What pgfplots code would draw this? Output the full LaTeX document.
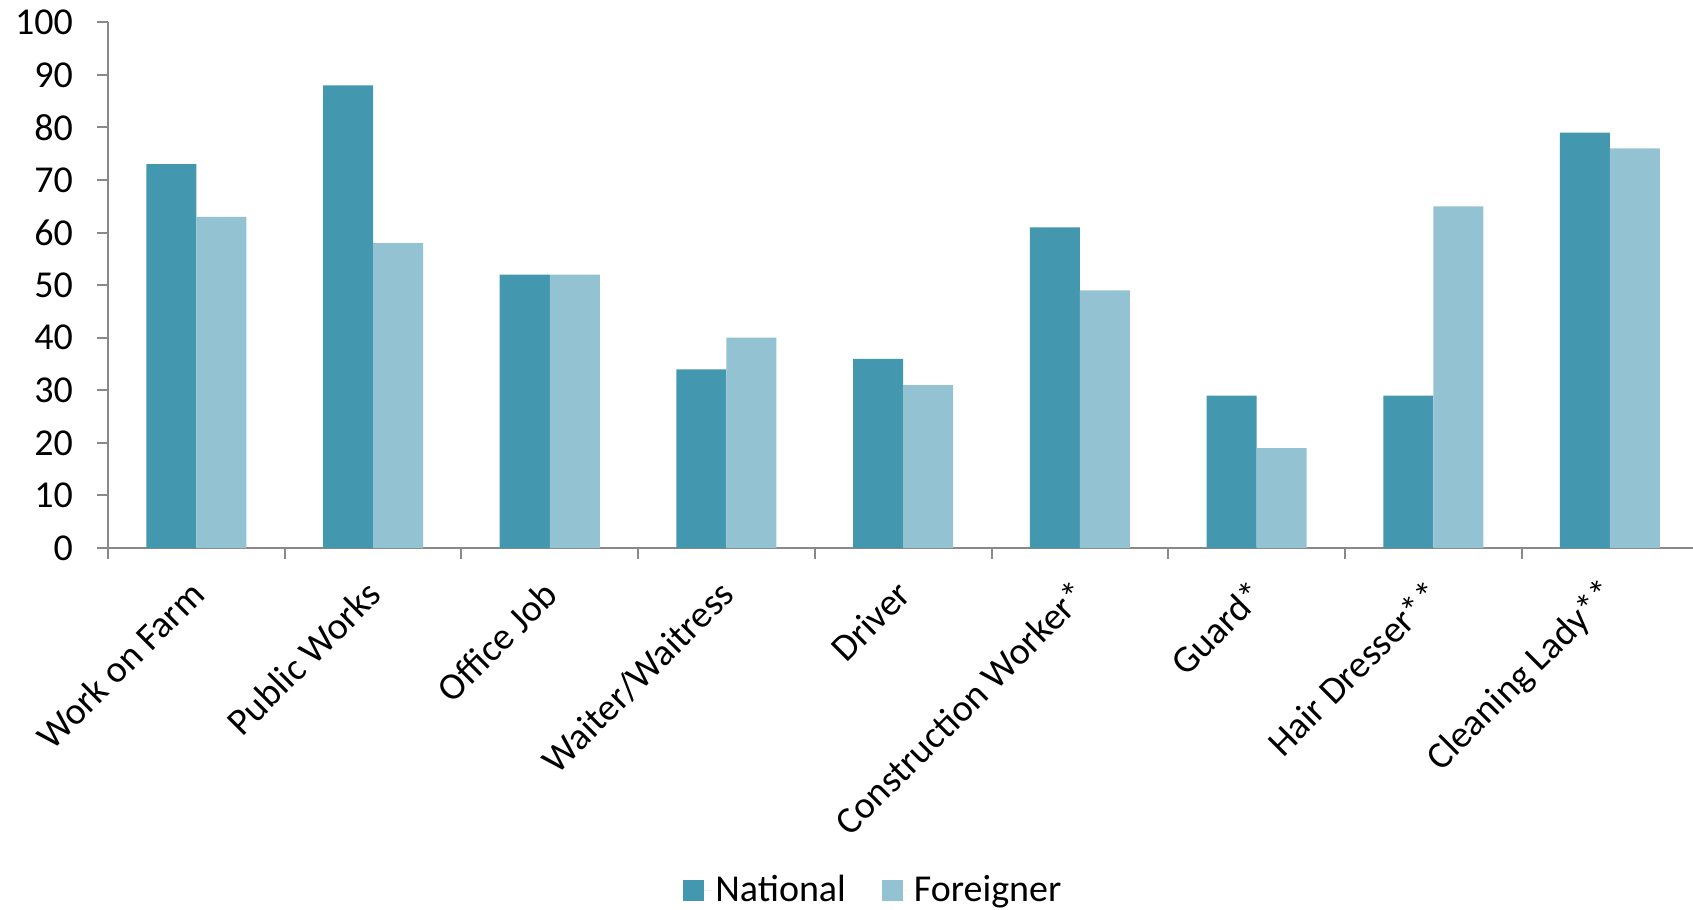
\documentclass[border=0pt]{standalone}
\usepackage{fontspec}
\setmainfont{Carlito}
\usepackage{pgfplots}
\usepackage{pgfplotstable}
\pgfplotsset{compat=1.18}

\definecolor{national}{HTML}{4398B0}
\definecolor{foreigner}{HTML}{93C3D3}
\definecolor{axisgray}{HTML}{898989}

% square legend swatch with a little room before the text
\pgfplotsset{sqlegend/.style={legend image code/.code={%
  \draw[##1,draw=none] (0pt,-5.25pt) rectangle (10.5pt,5.25pt);
  \path (0pt,0pt) -- (14pt,0pt);}}}

% Share of respondents by occupation
\pgfplotstableread{
idx national foreigner
0 73 63
1 88 58
2 52 52
3 34 40
4 36 31
5 61 49
6 29 19
7 29 65
8 79 76
}\jobdata

\begin{document}
\begin{tikzpicture}
\begin{axis}[
  scale only axis,
  x=88.35pt, y=2.6285pt,
  xmin=-0.5, xmax=8.47, ymin=0, ymax=100,
  axis x line*=bottom, axis y line*=left,
  axis line style={axisgray, line width=1pt},
  ybar, bar width=0.283,
  ytick={0,10,...,100},
  xtick={0,...,8},
  xticklabels={Work on Farm, Public Works, Office Job, Waiter/Waitress, Driver, Construction Worker*, Guard*, Hair Dresser**, Cleaning Lady**},
  minor xtick={-0.5,0.5,...,7.5},
  major x tick style={draw=none},
  tick align=outside,
  major tick length=5.5pt, minor tick length=5.5pt,
  every tick/.style={axisgray, line width=1pt},
  minor tick style={axisgray, line width=1pt},
  ticklabel style={font=\fontsize{19}{22}\selectfont, text=black},
  yticklabel style={xshift=-8.5pt},
  /pgf/number format/assume math mode=true,
  xticklabel style={xshift=3pt, yshift=-12pt, rotate=45, anchor=east},
  every axis plot post/.append style={sqlegend},
  legend columns=2,
  legend style={at={(0.4835,-0.6506)}, anchor=center, draw=none,
    font=\fontsize{19}{22}\selectfont,
    /tikz/every even column/.append style={column sep=16pt}},
]
\addplot[fill=national, draw=none, bar shift=-0.1415] table[x=idx, y=national] {\jobdata};
\addplot[fill=foreigner, draw=none, bar shift=0.1415] table[x=idx, y=foreigner] {\jobdata};
\legend{National, Foreigner}
\end{axis}
\pgfresetboundingbox
\path (-54pt,-181pt) rectangle (792.5pt,274pt);
\end{tikzpicture}
\end{document}
